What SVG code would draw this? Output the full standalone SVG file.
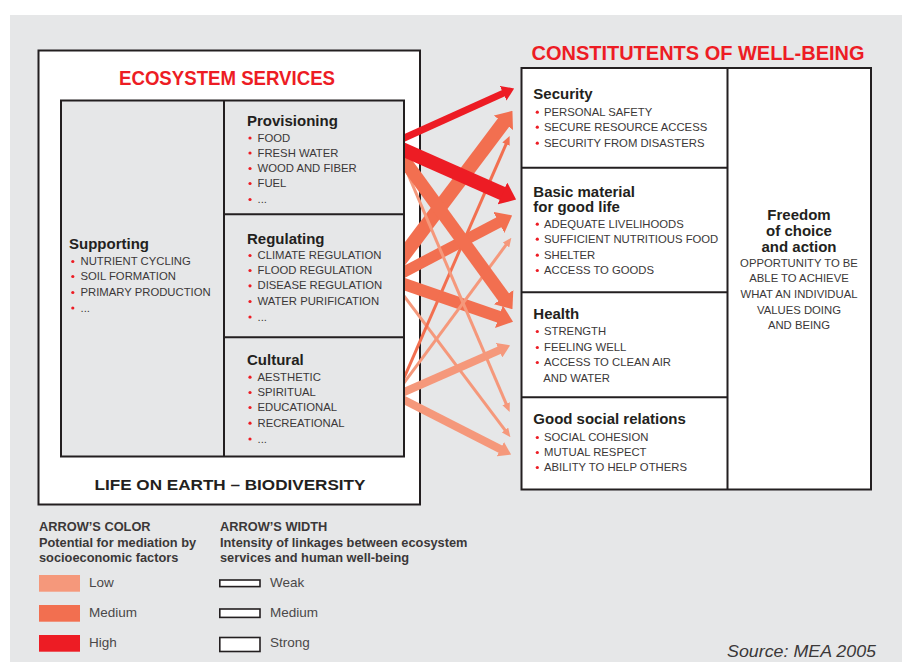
<svg xmlns="http://www.w3.org/2000/svg" width="902" height="662" viewBox="0 0 902 662">
  <style>
    .sans { font-family: "Liberation Sans", Arial, sans-serif; }
    .title { font-family: "Liberation Sans", Arial, sans-serif; font-weight: bold; fill: #ed1c24; font-size: 20px; }
    .head { font-family: "Liberation Sans", Arial, sans-serif; font-weight: bold; fill: #231f20; font-size: 15px; }
    .item { font-family: "Liberation Sans", Arial, sans-serif; fill: #3b3838; font-size: 11.3px; }
    .dot { fill: #ed1c24; }
    .box { stroke: #231f20; stroke-width: 2; }
    .legh { font-family: "Liberation Sans", Arial, sans-serif; font-weight: bold; fill: #3b3838; font-size: 12.8px; }
    .legl { font-family: "Liberation Sans", Arial, sans-serif; fill: #4a4848; font-size: 13.5px; }
    .hi { stroke: #ed1c24; fill: none; }
    .md { stroke: #f26f50; fill: none; }
    .lo { stroke: #f5987b; fill: none; }
  </style>
  <defs>
    <!-- arrow heads, one per colour and width class -->
    <marker id="h-hi-m" markerUnits="userSpaceOnUse" viewBox="0 0 12 16" markerWidth="12" markerHeight="16" refX="1" refY="8" orient="auto"><path d="M0,0 L12,8 L0,16 z" fill="#ed1c24"/></marker>
    <marker id="h-hi-s" markerUnits="userSpaceOnUse" viewBox="0 0 15 24" markerWidth="15" markerHeight="24" refX="1" refY="12" orient="auto"><path d="M0,0 L15,12 L0,24 z" fill="#ed1c24"/></marker>
    <marker id="h-md-s" markerUnits="userSpaceOnUse" viewBox="0 0 15 24" markerWidth="15" markerHeight="24" refX="1" refY="12" orient="auto"><path d="M0,0 L15,12 L0,24 z" fill="#f26f50"/></marker>
    <marker id="h-md-w" markerUnits="userSpaceOnUse" viewBox="0 0 9 8" markerWidth="9" markerHeight="8" refX="1" refY="4" orient="auto"><path d="M0,0 L9,4 L0,8 z" fill="#f26f50"/></marker>
    <marker id="h-lo-w" markerUnits="userSpaceOnUse" viewBox="0 0 9 8" markerWidth="9" markerHeight="8" refX="1" refY="4" orient="auto"><path d="M0,0 L9,4 L0,8 z" fill="#f5987b"/></marker>
    <marker id="h-lo-m" markerUnits="userSpaceOnUse" viewBox="0 0 12 16" markerWidth="12" markerHeight="16" refX="1" refY="8" orient="auto"><path d="M0,0 L12,8 L0,16 z" fill="#f5987b"/></marker>
    <clipPath id="arrowClip"><rect x="405" y="0" width="200" height="662"/></clipPath>
  </defs>

  <!-- page background -->
  <rect x="0" y="0" width="902" height="662" fill="#ffffff"/>
  <rect x="10" y="15" width="892" height="647" fill="#e6e7e8"/>

  <!-- ecosystem services panel -->
  <g id="ecosystem-services">
    <rect x="38.5" y="50.5" width="381.5" height="454" fill="#ffffff" class="box"/>
    <text x="227" y="85" class="title" text-anchor="middle" textLength="216" lengthAdjust="spacingAndGlyphs" font-size="19.5">ECOSYSTEM SERVICES</text>
    <rect x="61" y="100.5" width="343" height="356" fill="#e6e7e8" class="box"/>
    <text x="230" y="489.5" class="head" text-anchor="middle" font-size="17" textLength="271" lengthAdjust="spacingAndGlyphs">LIFE ON EARTH – BIODIVERSITY</text>
  </g>

  <g id="supporting">
    <line x1="224" y1="100.5" x2="224" y2="456.5" class="box"/>
    <text x="69" y="249" class="head">Supporting</text>
    <g class="item">
      <text x="80.5" y="265">NUTRIENT CYCLING</text>
      <text x="80.5" y="280">SOIL FORMATION</text>
      <text x="80.5" y="296">PRIMARY PRODUCTION</text>
      <text x="80.5" y="311.5">...</text>
    </g>
    <g class="dot">
      <circle cx="72.8" cy="261.5" r="1.6"/><circle cx="72.8" cy="276.5" r="1.6"/>
      <circle cx="72.8" cy="292.5" r="1.6"/><circle cx="72.8" cy="308" r="1.6"/>
    </g>
  </g>

  <g id="provisioning">
    <text x="247" y="126" class="head">Provisioning</text>
    <g class="item">
      <text x="257.5" y="141.5">FOOD</text>
      <text x="257.5" y="156.5">FRESH WATER</text>
      <text x="257.5" y="172">WOOD AND FIBER</text>
      <text x="257.5" y="187">FUEL</text>
      <text x="257.5" y="203">...</text>
    </g>
    <g class="dot">
      <circle cx="250" cy="138" r="1.6"/><circle cx="250" cy="153" r="1.6"/>
      <circle cx="250" cy="168.5" r="1.6"/><circle cx="250" cy="183.5" r="1.6"/>
      <circle cx="250" cy="199.5" r="1.6"/>
    </g>
  </g>

  <g id="regulating">
    <line x1="224" y1="214.3" x2="404" y2="214.3" class="box"/>
    <text x="247" y="243.5" class="head">Regulating</text>
    <g class="item">
      <text x="257.5" y="259">CLIMATE REGULATION</text>
      <text x="257.5" y="274">FLOOD REGULATION</text>
      <text x="257.5" y="289.3">DISEASE REGULATION</text>
      <text x="257.5" y="305">WATER PURIFICATION</text>
      <text x="257.5" y="320.5">...</text>
    </g>
    <g class="dot">
      <circle cx="250" cy="255.5" r="1.6"/><circle cx="250" cy="270.5" r="1.6"/>
      <circle cx="250" cy="285.8" r="1.6"/><circle cx="250" cy="301.5" r="1.6"/>
      <circle cx="250" cy="317" r="1.6"/>
    </g>
  </g>

  <g id="cultural">
    <line x1="224" y1="337.3" x2="404" y2="337.3" class="box"/>
    <text x="247" y="365" class="head">Cultural</text>
    <g class="item">
      <text x="257.5" y="380.7">AESTHETIC</text>
      <text x="257.5" y="396">SPIRITUAL</text>
      <text x="257.5" y="411">EDUCATIONAL</text>
      <text x="257.5" y="426.7">RECREATIONAL</text>
      <text x="257.5" y="442.5">...</text>
    </g>
    <g class="dot">
      <circle cx="250" cy="377.2" r="1.6"/><circle cx="250" cy="392.5" r="1.6"/>
      <circle cx="250" cy="407.5" r="1.6"/><circle cx="250" cy="423.2" r="1.6"/>
      <circle cx="250" cy="439" r="1.6"/>
    </g>
  </g>

  <!-- constituents of well-being panel -->
  <g id="well-being">
    <text x="698" y="59.5" class="title" text-anchor="middle" textLength="333" lengthAdjust="spacingAndGlyphs">CONSTITUTENTS OF WELL-BEING</text>
    <rect x="521.5" y="68" width="349.5" height="421.5" fill="#ffffff" class="box"/>
    <line x1="727.5" y1="68" x2="727.5" y2="489.5" class="box"/>
  </g>

  <g id="security">
    <text x="533.3" y="99" class="head">Security</text>
    <g class="item">
      <text x="544" y="115.7">PERSONAL SAFETY</text>
      <text x="544" y="130.7">SECURE RESOURCE ACCESS</text>
      <text x="544" y="146.7">SECURITY FROM DISASTERS</text>
    </g>
    <g class="dot">
      <circle cx="537.3" cy="112.2" r="1.6"/><circle cx="537.3" cy="127.2" r="1.6"/>
      <circle cx="537.3" cy="143.2" r="1.6"/>
    </g>
  </g>

  <g id="basic-material">
    <line x1="521.5" y1="167.7" x2="727.5" y2="167.7" class="box"/>
    <text x="533.3" y="196.5" class="head">Basic material</text>
    <text x="533.3" y="211.7" class="head">for good life</text>
    <g class="item">
      <text x="544" y="227.7">ADEQUATE LIVELIHOODS</text>
      <text x="544" y="242.7">SUFFICIENT NUTRITIOUS FOOD</text>
      <text x="544" y="258.7">SHELTER</text>
      <text x="544" y="274">ACCESS TO GOODS</text>
    </g>
    <g class="dot">
      <circle cx="537.3" cy="224.2" r="1.6"/><circle cx="537.3" cy="239.2" r="1.6"/>
      <circle cx="537.3" cy="255.2" r="1.6"/><circle cx="537.3" cy="270.5" r="1.6"/>
    </g>
  </g>

  <g id="health">
    <line x1="521.5" y1="292.3" x2="727.5" y2="292.3" class="box"/>
    <text x="533.3" y="319.3" class="head">Health</text>
    <g class="item">
      <text x="544" y="335">STRENGTH</text>
      <text x="544" y="351">FEELING WELL</text>
      <text x="544" y="366">ACCESS TO CLEAN AIR</text>
      <text x="543.3" y="381.7">AND WATER</text>
    </g>
    <g class="dot">
      <circle cx="537.3" cy="331.5" r="1.6"/><circle cx="537.3" cy="347.5" r="1.6"/>
      <circle cx="537.3" cy="362.5" r="1.6"/>
    </g>
  </g>

  <g id="social-relations">
    <line x1="521.5" y1="397.3" x2="727.5" y2="397.3" class="box"/>
    <text x="533.3" y="424" class="head">Good social relations</text>
    <g class="item">
      <text x="544" y="441">SOCIAL COHESION</text>
      <text x="544" y="456">MUTUAL RESPECT</text>
      <text x="544" y="471">ABILITY TO HELP OTHERS</text>
    </g>
    <g class="dot">
      <circle cx="537.3" cy="437.5" r="1.6"/><circle cx="537.3" cy="452.5" r="1.6"/>
      <circle cx="537.3" cy="467.5" r="1.6"/>
    </g>
  </g>

  <g id="freedom">
    <g class="head" text-anchor="middle">
      <text x="799" y="220">Freedom</text>
      <text x="799" y="235.5">of choice</text>
      <text x="799" y="251.5">and action</text>
    </g>
    <g class="item" text-anchor="middle">
      <text x="799" y="266.7">OPPORTUNITY TO BE</text>
      <text x="799" y="282.3">ABLE TO ACHIEVE</text>
      <text x="799" y="298.3">WHAT AN INDIVIDUAL</text>
      <text x="799" y="313.5">VALUES DOING</text>
      <text x="799" y="329">AND BEING</text>
    </g>
  </g>

  <!-- linkages between services and well-being -->
  <g id="connectors" clip-path="url(#arrowClip)">
    <!-- regulating -->
    <line x1="398" y1="263" x2="504" y2="122" class="md" stroke-width="14" marker-end="url(#h-md-s)"/>
    <line x1="395.1" y1="276.6" x2="499.7" y2="221.9" class="md" stroke-width="11" marker-end="url(#h-md-s)"/>
    <line x1="394.5" y1="280.7" x2="499.8" y2="317.1" class="md" stroke-width="12" marker-end="url(#h-md-s)"/>
    <line x1="398" y1="288" x2="505.6" y2="430.8" class="lo" stroke-width="3" marker-end="url(#h-lo-w)"/>
    <!-- cultural -->
    <line x1="400" y1="387.2" x2="506.4" y2="143.3" class="md" stroke-width="3" marker-end="url(#h-md-w)"/>
    <line x1="398" y1="391" x2="506.6" y2="244.2" class="lo" stroke-width="3" marker-end="url(#h-lo-w)"/>
    <line x1="394.8" y1="396" x2="500" y2="349.8" class="lo" stroke-width="8" marker-end="url(#h-lo-m)"/>
    <line x1="395.1" y1="395.5" x2="501.3" y2="449.6" class="lo" stroke-width="8" marker-end="url(#h-lo-m)"/>
    <!-- provisioning -->
    <line x1="400.1" y1="155.8" x2="506.5" y2="404.7" class="lo" stroke-width="3" marker-end="url(#h-lo-w)"/>
    <line x1="398.1" y1="151.9" x2="504.2" y2="297.9" class="md" stroke-width="13" marker-end="url(#h-md-s)"/>
    <line x1="394.9" y1="142.1" x2="504.1" y2="92.9" class="hi" stroke-width="7" marker-end="url(#h-hi-m)"/>
    <line x1="394.9" y1="145.9" x2="503.3" y2="193.9" class="hi" stroke-width="14" marker-end="url(#h-hi-s)"/>
  </g>

  <!-- legend -->
  <g id="legend-colour">
    <text x="39" y="530.7" class="legh">ARROW’S COLOR</text>
    <text x="39" y="546.7" class="legh">Potential for mediation by</text>
    <text x="39" y="561.7" class="legh">socioeconomic factors</text>
    <rect x="39" y="575" width="41" height="16.7" fill="#f5987b"/>
    <rect x="39" y="605" width="41" height="16.7" fill="#f26f50"/>
    <rect x="39" y="635" width="41" height="16.7" fill="#ed1c24"/>
    <text x="89" y="586.7" class="legl">Low</text>
    <text x="89" y="616.7" class="legl">Medium</text>
    <text x="89" y="647" class="legl">High</text>
  </g>
  <g id="legend-width">
    <text x="220" y="530.7" class="legh">ARROW’S WIDTH</text>
    <text x="220" y="546.7" class="legh">Intensity of linkages between ecosystem</text>
    <text x="220" y="561.7" class="legh">services and human well-being</text>
    <rect x="219.8" y="580" width="40.2" height="6.6" fill="#ffffff" stroke="#231f20" stroke-width="1.6"/>
    <rect x="219.8" y="609" width="40.2" height="8.4" fill="#ffffff" stroke="#231f20" stroke-width="1.6"/>
    <rect x="219.8" y="637.5" width="40.2" height="14" fill="#ffffff" stroke="#231f20" stroke-width="1.6"/>
    <text x="270" y="586.7" class="legl">Weak</text>
    <text x="270" y="616.7" class="legl">Medium</text>
    <text x="270" y="647" class="legl">Strong</text>
  </g>

  <text x="876" y="656.7" class="sans" font-style="italic" font-size="16.5" fill="#3b3838" text-anchor="end" textLength="149" lengthAdjust="spacingAndGlyphs">Source: MEA 2005</text>
</svg>
